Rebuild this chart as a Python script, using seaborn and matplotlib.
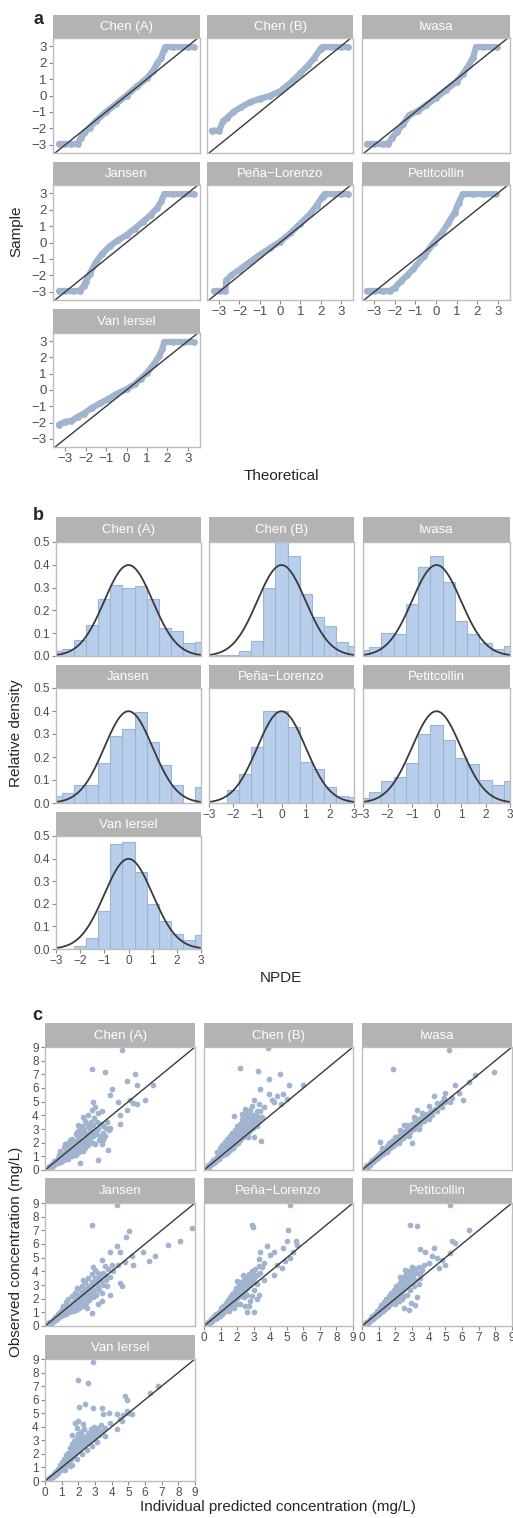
import numpy as np
import seaborn as sns
import matplotlib.pyplot as plt

sns.set_style('white')
plt.rcParams['font.family'] = ['Liberation Sans', 'DejaVu Sans']

studies = ['Chen (A)', 'Chen (B)', 'Iwasa', 'Jansen', 'Peña\u2212Lorenzo', 'Petitcollin', 'Van Iersel']

# ---- a: QQ plot of NPDE (theoretical, sample) ----
qq_chen_a = [(-3.3, -2.95), (-3.0, -2.95), (-2.7, -2.95), (-2.4, -2.95), (-2.25, -2.6), (-2.1, -2.3),
             (-1.8, -1.95), (-1.5, -1.55), (-1.0, -1.0), (-0.5, -0.5), (0, 0), (0.5, 0.55), (1.0, 1.05),
             (1.3, 1.5), (1.5, 1.95), (1.7, 2.3), (1.85, 2.8), (1.9, 2.95), (2.3, 2.95), (2.7, 2.95),
             (3.0, 2.95), (3.3, 2.95)]
qq_chen_b = [(-3.35, -2.14), (-3.0, -2.14), (-2.8, -1.55), (-2.6, -1.35), (-2.3, -1.0), (-1.9, -0.7),
             (-1.5, -0.42), (-1.0, -0.2), (-0.5, -0.02), (0, 0.25), (0.5, 0.75), (1.0, 1.35), (1.4, 1.85),
             (1.7, 2.3), (2.0, 2.85), (2.1, 2.95), (2.5, 2.95), (3.0, 2.95), (3.35, 2.95)]
qq_iwasa = [(-3.35, -2.95), (-3.0, -2.95), (-2.6, -2.95), (-2.35, -2.95), (-2.15, -2.6), (-1.9, -2.2),
            (-1.6, -1.75), (-1.3, -1.2), (-0.9, -0.95), (-0.5, -0.6), (0, -0.15), (0.5, 0.35), (1.0, 0.85),
            (1.3, 1.3), (1.6, 1.85), (1.8, 2.3), (1.95, 2.95), (2.3, 2.95), (2.7, 2.95), (2.95, 2.95)]
qq_jansen = [(-3.3, -2.95), (-3.0, -2.95), (-2.6, -2.95), (-2.3, -2.95), (-2.1, -2.65), (-2.0, -2.4),
             (-1.8, -1.9), (-1.5, -1.2), (-1.2, -0.7), (-0.8, -0.2), (-0.4, 0.15), (0, 0.45), (0.4, 0.85),
             (0.8, 1.25), (1.2, 1.7), (1.5, 2.1), (1.7, 2.5), (1.85, 2.95), (2.3, 2.95), (2.8, 2.95),
             (3.3, 2.95)]
qq_pena = [(-3.25, -2.95), (-2.95, -2.95), (-2.7, -2.95), (-2.65, -2.3), (-2.4, -2.0), (-2.0, -1.65),
           (-1.5, -1.2), (-1.0, -0.75), (-0.5, -0.35), (0, 0.05), (0.5, 0.55), (1.0, 1.15), (1.5, 1.75),
           (1.8, 2.25), (2.1, 2.8), (2.2, 2.95), (2.6, 2.95), (3.0, 2.95), (3.35, 2.95)]
qq_petit = [(-3.35, -2.95), (-3.0, -2.95), (-2.6, -2.95), (-2.25, -2.95), (-2.0, -2.75), (-1.7, -2.35),
            (-1.4, -2.0), (-1.1, -1.6), (-0.6, -0.85), (-0.1, 0.0), (0.3, 0.6), (0.6, 1.2), (0.9, 1.8),
            (1.1, 2.4), (1.3, 2.95), (1.8, 2.95), (2.3, 2.95), (2.9, 2.95)]
qq_vani = [(-3.3, -2.12), (-3.0, -1.95), (-2.7, -1.9), (-2.4, -1.65), (-2.1, -1.45), (-1.7, -1.1),
           (-1.3, -0.82), (-0.9, -0.55), (-0.5, -0.25), (0, 0.05), (0.4, 0.35), (0.7, 0.7), (1.0, 1.05),
           (1.35, 1.6), (1.6, 2.1), (1.75, 2.5), (1.85, 2.95), (2.3, 2.95), (2.8, 2.95), (3.3, 2.95)]
qq_data = [qq_chen_a, qq_chen_b, qq_iwasa, qq_jansen, qq_pena, qq_petit, qq_vani]

# ---- b: NPDE histograms (relative density per 0.5-wide bin) ----
hist_centers = [-3, -2.5, -2, -1.5, -1, -0.5, 0, 0.5, 1, 1.5, 2, 2.5, 3]
hist_chen_a = [0.02, 0.03, 0.07, 0.135, 0.25, 0.31, 0.30, 0.305, 0.25, 0.125, 0.11, 0.055, 0.06]
hist_chen_b = [0.0, 0.003, 0.005, 0.02, 0.065, 0.30, 0.50, 0.44, 0.27, 0.17, 0.13, 0.06, 0.045]
hist_iwasa = [0.025, 0.04, 0.10, 0.095, 0.23, 0.39, 0.44, 0.325, 0.155, 0.095, 0.055, 0.03, 0.045]
hist_jansen = [0.03, 0.045, 0.08, 0.08, 0.175, 0.29, 0.32, 0.395, 0.265, 0.165, 0.08, 0.0, 0.07]
hist_pena = [0.0, 0.0, 0.055, 0.125, 0.245, 0.40, 0.40, 0.33, 0.18, 0.15, 0.07, 0.03, 0.025]
hist_petit = [0.02, 0.05, 0.095, 0.115, 0.175, 0.30, 0.34, 0.275, 0.195, 0.17, 0.10, 0.08, 0.095]
hist_vani = [0.0, 0.0, 0.015, 0.05, 0.17, 0.465, 0.475, 0.34, 0.20, 0.125, 0.065, 0.04, 0.06]
hist_data = [hist_chen_a, hist_chen_b, hist_iwasa, hist_jansen, hist_pena, hist_petit, hist_vani]

# ---- c: observed vs individual predicted (pred, obs) ----
obs_chen_a = [(0.15, 0.1), (0.25, 0.3), (0.35, 0.2), (0.4, 0.45), (0.5, 0.3), (0.55, 0.65), (0.6, 0.45),
              (0.75, 0.5), (0.8, 0.9), (0.7, 0.75), (0.85, 1.1), (0.95, 0.6), (1.05, 0.9), (1.0, 1.2),
              (0.9, 1.4), (1.15, 0.7), (1.2, 1.05), (1.25, 1.4), (1.15, 1.7), (1.35, 0.8), (1.45, 1.2),
              (1.4, 1.6), (1.35, 2.0), (1.6, 1.0), (1.55, 1.45), (1.65, 1.9), (1.6, 2.3), (1.85, 1.1),
              (1.8, 1.6), (1.75, 2.1), (1.85, 2.6), (2.05, 1.3), (1.95, 1.8), (2.0, 2.4), (2.05, 2.9),
              (2.25, 1.4), (2.2, 2.0), (2.15, 2.6), (2.2, 3.2), (2.4, 1.6), (2.45, 2.3), (2.35, 2.9),
              (2.4, 3.6), (2.6, 1.8), (2.65, 2.5), (2.55, 3.2), (2.6, 4.0), (2.85, 2.0), (2.8, 2.8),
              (2.75, 3.5), (2.8, 4.4), (3.0, 1.9), (3.05, 2.6), (2.95, 3.8), (3.0, 4.6), (3.25, 2.2),
              (3.2, 3.0), (3.15, 4.2), (3.4, 1.9), (3.45, 2.7), (3.35, 3.4), (3.6, 2.5), (3.65, 3.1),
              (3.8, 1.5), (3.85, 2.9),
              (0.3, 0.25), (0.45, 0.35), (0.6, 0.6), (0.7, 0.55), (0.85, 0.75), (0.9, 0.95), (1.0, 1.0),
              (1.1, 1.2), (1.1, 0.95), (1.3, 1.15), (1.3, 1.55), (1.45, 1.4), (1.5, 1.75), (1.7, 1.3),
              (1.7, 1.55), (1.75, 1.85), (1.9, 1.45), (1.95, 2.15), (2.1, 1.7), (2.1, 2.3), (2.3, 1.8),
              (2.3, 2.15), (2.3, 2.65), (2.5, 2.05), (2.5, 2.6), (2.5, 3.4), (2.7, 2.2), (2.7, 3.0),
              (2.9, 2.5), (2.9, 3.3), (3.1, 2.9), (3.1, 3.5), (3.3, 2.5), (3.5, 3.2), (2.0, 3.3),
              (2.3, 3.9), (1.9, 2.8), (3.7, 3.5), (3.5, 2.2), (1.2, 1.9), (1.5, 2.2),
              (4.6, 8.8), (2.8, 7.4), (3.6, 7.2), (5.4, 7.0), (4.9, 6.5), (5.5, 6.2), (6.5, 6.2),
              (4.0, 5.9), (3.9, 5.5), (4.4, 5.0), (5.1, 5.1), (5.5, 4.8), (6.0, 5.1), (5.3, 4.9),
              (4.9, 4.4), (4.5, 4.0), (3.9, 3.1), (4.5, 3.4), (3.2, 0.7), (2.1, 0.5), (3.4, 4.3),
              (2.9, 5.0)]
obs_chen_b = [(0.15, 0.15), (0.25, 0.35), (0.3, 0.2), (0.4, 0.5), (0.45, 0.35), (0.55, 0.7), (0.6, 0.5),
              (0.7, 0.9), (0.75, 0.65), (0.85, 1.1), (0.9, 0.8), (0.8, 1.3), (1.0, 1.0), (1.05, 1.35),
              (0.95, 1.6), (1.15, 1.1), (1.2, 1.5), (1.1, 1.85), (1.3, 1.2), (1.35, 1.65), (1.25, 2.05),
              (1.45, 1.35), (1.5, 1.8), (1.4, 2.25), (1.6, 1.5), (1.65, 2.0), (1.55, 2.5), (1.75, 1.6),
              (1.8, 2.2), (1.7, 2.7), (1.9, 1.8), (1.95, 2.4), (1.85, 2.9), (2.05, 2.0), (2.1, 2.6),
              (2.0, 3.2), (2.2, 2.2), (2.25, 2.8), (2.15, 3.4), (2.35, 2.4), (2.4, 3.0), (2.3, 3.7),
              (2.5, 2.5), (2.55, 3.2), (2.45, 3.9), (2.65, 2.7), (2.7, 3.4), (2.6, 4.2), (2.8, 2.9),
              (2.85, 3.6), (2.75, 4.4), (2.95, 3.1), (3.0, 3.9), (2.9, 4.7), (3.1, 3.3), (3.15, 4.1),
              (3.3, 3.6), (3.4, 4.3), (3.5, 3.9),
              (0.35, 0.45), (0.5, 0.55), (0.65, 0.8), (0.7, 0.65), (0.9, 1.1), (0.95, 1.3), (1.1, 1.3),
              (1.15, 1.55), (1.25, 1.45), (1.3, 1.8), (1.45, 1.65), (1.5, 2.1), (1.6, 1.8), (1.7, 2.3),
              (1.75, 1.95), (1.85, 2.55), (1.95, 2.15), (2.0, 2.7), (2.1, 2.3), (2.15, 2.95), (2.25, 2.5),
              (2.3, 3.2), (2.4, 2.7), (2.5, 3.5), (2.55, 2.85), (2.65, 3.2), (2.7, 3.8), (2.8, 3.3),
              (2.9, 4.0), (3.0, 3.5), (3.1, 3.7), (3.2, 4.3), (3.25, 3.9), (2.5, 4.5), (2.3, 4.1),
              (3.3, 4.8), (1.4, 1.9), (2.0, 2.25), (2.65, 2.4), (3.6, 4.6),
              (3.85, 8.9), (2.15, 7.45), (3.25, 7.25), (4.6, 7.0), (3.9, 6.65), (5.15, 6.2), (5.95, 6.2),
              (3.4, 5.9), (3.9, 5.55), (4.4, 5.4), (4.8, 5.55), (4.1, 5.15), (4.65, 4.8), (3.0, 5.15),
              (2.4, 3.95), (1.8, 3.95), (3.45, 2.1), (3.0, 2.45), (3.2, 3.2), (4.2, 5.0), (5.0, 5.2)]
obs_iwasa = [(0.15, 0.15), (0.25, 0.3), (0.35, 0.25), (0.45, 0.5), (0.5, 0.4), (0.6, 0.7), (0.65, 0.55),
             (0.75, 0.85), (0.8, 0.7), (0.9, 1.05), (0.95, 0.85), (1.05, 1.25), (1.1, 1.0), (1.2, 1.4),
             (1.25, 1.15), (1.35, 1.55), (1.4, 1.3), (1.5, 1.75), (1.55, 1.45), (1.65, 1.9), (1.7, 1.6),
             (1.8, 2.1), (1.85, 1.75), (1.95, 2.25), (2.0, 1.9), (2.1, 2.4), (2.15, 2.05), (2.25, 2.55),
             (2.3, 2.2), (2.4, 2.7), (2.45, 2.35), (2.55, 2.85), (2.6, 2.5), (2.7, 3.0), (2.75, 2.65),
             (2.85, 3.2), (2.9, 2.8), (3.0, 3.35), (3.1, 3.0), (3.2, 3.55), (3.3, 3.2), (3.4, 3.75),
             (3.5, 3.4), (3.6, 3.9), (3.7, 3.55), (3.8, 4.1), (3.9, 3.8), (4.05, 4.25), (4.2, 4.0),
             (4.35, 4.5), (4.5, 4.3), (4.65, 4.7),
             (0.3, 0.35), (0.55, 0.55), (0.7, 0.7), (0.85, 0.9), (1.0, 1.1), (1.15, 1.2), (1.3, 1.4),
             (1.45, 1.5), (1.6, 1.7), (1.75, 1.85), (1.9, 2.0), (2.05, 2.15), (2.2, 2.3), (2.35, 2.5),
             (2.5, 2.6), (2.65, 2.75), (2.8, 2.95), (2.95, 3.05), (3.15, 3.3), (3.35, 3.45), (3.55, 3.65),
             (3.75, 3.8), (3.95, 4.05), (4.15, 4.3), (4.4, 4.4), (1.2, 1.6), (1.6, 2.0), (2.0, 2.45),
             (2.3, 2.9), (2.7, 3.3), (3.2, 3.8), (3.6, 4.2), (1.5, 1.3), (2.2, 1.95), (2.8, 2.5),
             (3.4, 3.0), (4.0, 3.7), (4.8, 4.6), (5.0, 5.0), (4.9, 5.3),
             (5.2, 8.8), (1.85, 7.4), (7.9, 7.2), (6.8, 6.95), (6.4, 6.45), (5.6, 6.2), (6.05, 5.1),
             (5.4, 5.25), (5.0, 5.6), (4.3, 5.4), (4.5, 4.9), (4.0, 4.65), (3.1, 3.9), (3.0, 1.95),
             (1.1, 2.05), (3.3, 4.4), (5.3, 5.0), (5.8, 5.6), (4.8, 5.0), (2.5, 3.3)]
obs_jansen = [(0.15, 0.1), (0.25, 0.3), (0.35, 0.2), (0.45, 0.45), (0.5, 0.3), (0.6, 0.65), (0.65, 0.45),
              (0.75, 0.85), (0.8, 0.55), (0.9, 1.0), (0.95, 0.7), (1.0, 1.25), (1.1, 0.8), (1.15, 1.1),
              (1.1, 1.5), (1.25, 0.9), (1.3, 1.3), (1.25, 1.75), (1.45, 1.0), (1.5, 1.5), (1.4, 1.95),
              (1.65, 1.1), (1.7, 1.7), (1.6, 2.2), (1.85, 1.2), (1.9, 1.9), (1.8, 2.45), (2.05, 1.35),
              (2.1, 2.1), (2.0, 2.7), (2.25, 1.5), (2.3, 2.3), (2.2, 2.95), (2.45, 1.7), (2.5, 2.5),
              (2.4, 3.2), (2.65, 1.9), (2.7, 2.75), (2.6, 3.5), (2.85, 2.1), (2.9, 3.0), (2.8, 3.8),
              (3.05, 2.3), (3.1, 3.3), (3.0, 4.1), (3.25, 2.6), (3.3, 3.6), (3.45, 3.0), (3.5, 3.9),
              (3.65, 3.4), (3.8, 4.2),
              (0.3, 0.25), (0.55, 0.5), (0.7, 0.6), (0.85, 0.8), (1.0, 0.95), (1.05, 1.05), (1.2, 1.2),
              (1.35, 1.1), (1.35, 1.5), (1.55, 1.25), (1.6, 1.7), (1.75, 1.4), (1.8, 1.95), (1.95, 1.6),
              (2.0, 2.25), (2.15, 1.8), (2.2, 2.5), (2.35, 2.0), (2.4, 2.7), (2.55, 2.2), (2.6, 2.95),
              (2.75, 2.4), (2.8, 3.2), (2.95, 2.6), (3.0, 3.5), (3.15, 2.9), (3.2, 3.9), (3.35, 3.3),
              (3.4, 2.4), (3.6, 3.7), (3.7, 2.9), (3.9, 3.6), (4.0, 4.5), (3.6, 4.4), (3.2, 1.6),
              (2.5, 1.3), (1.9, 2.8), (2.3, 3.4), (2.9, 4.3),
              (4.35, 8.85), (2.8, 7.4), (5.05, 6.95), (4.85, 6.5), (8.8, 7.2), (8.1, 6.2), (7.4, 5.95),
              (6.6, 5.1), (6.25, 4.75), (5.9, 5.45), (5.2, 5.1), (4.5, 5.45), (4.3, 5.85), (3.9, 5.45),
              (3.4, 4.85), (4.4, 4.5), (5.3, 4.5), (4.5, 3.15), (3.4, 1.8), (2.8, 0.95), (3.9, 2.3),
              (4.6, 2.9), (4.1, 4.0), (4.8, 4.7)]
obs_pena = [(0.15, 0.15), (0.25, 0.3), (0.35, 0.2), (0.45, 0.5), (0.5, 0.35), (0.6, 0.7), (0.65, 0.5),
            (0.75, 0.9), (0.8, 0.6), (0.9, 1.05), (0.95, 0.75), (1.05, 1.3), (1.1, 0.9), (1.15, 1.5),
            (1.2, 1.05), (1.3, 1.7), (1.35, 1.2), (1.45, 1.9), (1.5, 1.35), (1.55, 2.15), (1.6, 1.5),
            (1.7, 2.35), (1.75, 1.65), (1.85, 2.55), (1.9, 1.8), (1.95, 2.8), (2.0, 2.05), (2.1, 3.0),
            (2.15, 2.2), (2.25, 3.2), (2.3, 2.4), (2.4, 3.4), (2.45, 2.6), (2.55, 3.6), (2.6, 2.8),
            (2.7, 3.8), (2.75, 3.0), (2.85, 3.3), (2.9, 4.0), (3.0, 3.5), (3.1, 4.2), (3.2, 3.7),
            (3.3, 4.4), (3.0, 2.6), (2.2, 1.6), (1.8, 1.3),
            (0.3, 0.3), (0.55, 0.5), (0.7, 0.75), (0.85, 0.8), (1.0, 1.05), (1.1, 1.2), (1.25, 1.35),
            (1.4, 1.5), (1.5, 1.7), (1.6, 1.85), (1.7, 2.0), (1.8, 2.2), (1.95, 2.35), (2.05, 2.55),
            (2.2, 2.7), (2.3, 2.9), (2.45, 3.05), (2.55, 3.2), (2.7, 3.35), (2.8, 3.6), (2.95, 3.8),
            (3.05, 3.2), (3.2, 3.1), (3.4, 3.9), (3.5, 4.3), (2.0, 1.6), (2.4, 2.1), (2.6, 2.3),
            (2.9, 2.2), (3.2, 2.0), (2.7, 1.5), (1.5, 1.1), (3.6, 3.4), (2.35, 3.7), (2.0, 3.3),
            (5.2, 8.85), (2.9, 7.4), (2.95, 7.25), (5.1, 7.0), (5.0, 6.2), (5.55, 6.25), (5.6, 5.95),
            (5.4, 5.45), (5.2, 5.0), (4.9, 4.75), (4.4, 4.5), (4.2, 5.45), (4.0, 5.2), (4.8, 5.7),
            (4.7, 4.25), (4.2, 3.75), (3.4, 5.45), (3.8, 5.85), (3.3, 4.9), (3.6, 4.6), (2.6, 1.05),
            (3.0, 1.0), (2.5, 1.5), (3.3, 2.3), (2.8, 1.8)]
obs_petit = [(0.15, 0.15), (0.25, 0.3), (0.35, 0.2), (0.45, 0.5), (0.5, 0.35), (0.6, 0.7), (0.65, 0.5),
             (0.75, 0.9), (0.8, 0.65), (0.9, 1.1), (0.95, 0.8), (1.05, 1.3), (1.1, 0.95), (1.15, 1.55),
             (1.25, 1.1), (1.3, 1.75), (1.4, 1.25), (1.45, 1.95), (1.55, 1.4), (1.6, 2.2), (1.7, 1.6),
             (1.75, 2.45), (1.85, 1.8), (1.9, 2.65), (2.0, 2.0), (2.05, 2.9), (2.15, 2.2), (2.2, 3.1),
             (2.3, 2.4), (2.35, 3.35), (2.45, 2.6), (2.5, 3.6), (2.6, 2.8), (2.65, 3.8), (2.75, 3.0),
             (2.8, 4.0), (2.9, 3.2), (3.0, 3.6), (3.0, 4.3), (3.15, 3.4), (3.3, 3.9), (3.45, 3.5),
             (3.6, 4.1), (2.5, 2.2), (2.2, 1.8),
             (0.3, 0.3), (0.55, 0.5), (0.7, 0.75), (0.85, 0.85), (1.0, 1.05), (1.15, 1.2), (1.25, 1.4),
             (1.35, 1.5), (1.5, 1.65), (1.6, 1.85), (1.7, 2.0), (1.8, 2.2), (1.95, 2.35), (2.05, 2.5),
             (2.15, 2.7), (2.25, 2.85), (2.4, 3.0), (2.5, 3.15), (2.6, 3.35), (2.7, 3.5), (2.85, 3.6),
             (2.95, 3.9), (3.1, 3.8), (3.2, 4.2), (3.4, 4.3), (3.5, 3.9), (2.0, 1.6), (2.4, 2.0),
             (2.7, 2.3), (2.9, 2.6), (3.1, 2.9), (3.4, 3.1), (2.3, 3.6), (2.6, 4.1), (3.7, 4.5),
             (2.95, 1.7),
             (5.3, 8.85), (2.9, 7.4), (3.3, 7.35), (6.4, 7.0), (5.4, 6.25), (5.55, 6.1), (3.45, 5.6),
             (3.8, 5.45), (4.3, 5.7), (4.2, 5.15), (4.8, 4.8), (5.3, 5.35), (4.6, 4.25), (5.0, 4.5),
             (3.1, 4.1), (3.2, 1.55), (2.8, 1.2), (2.5, 1.3), (3.3, 2.15), (4.0, 4.6), (4.5, 5.0)]
obs_vani = [(0.15, 0.1), (0.25, 0.25), (0.35, 0.2), (0.45, 0.45), (0.5, 0.3), (0.6, 0.65), (0.65, 0.45),
            (0.75, 0.9), (0.8, 0.6), (0.9, 1.15), (0.95, 0.8), (1.0, 1.4), (1.05, 1.0), (1.15, 1.65),
            (1.2, 1.15), (1.25, 1.9), (1.3, 1.3), (1.4, 2.1), (1.45, 1.45), (1.5, 2.4), (1.55, 1.6),
            (1.6, 2.7), (1.7, 1.75), (1.75, 2.95), (1.8, 2.0), (1.9, 3.2), (1.95, 2.2), (2.0, 3.45),
            (2.1, 2.4), (2.15, 3.6), (2.2, 2.6), (2.3, 3.0), (2.35, 3.8), (2.45, 2.7), (2.5, 3.3),
            (2.6, 2.9), (2.7, 3.5), (2.8, 3.1), (2.9, 3.7), (3.0, 3.2), (3.1, 3.9), (3.25, 3.4),
            (3.4, 3.7), (1.8, 4.3), (2.0, 4.45), (1.2, 0.8), (1.6, 1.2),
            (0.3, 0.3), (0.55, 0.5), (0.7, 0.75), (0.85, 0.85), (1.0, 1.15), (1.1, 1.3), (1.2, 1.5),
            (1.3, 1.7), (1.35, 1.5), (1.45, 1.85), (1.55, 2.0), (1.65, 2.2), (1.7, 2.45), (1.8, 2.6),
            (1.85, 2.3), (1.95, 2.75), (2.05, 2.95), (2.1, 3.2), (2.2, 3.35), (2.25, 2.85), (2.4, 3.1),
            (2.55, 3.55), (2.65, 3.2), (2.75, 3.8), (2.85, 3.4), (2.95, 4.0), (3.05, 3.5), (3.2, 3.75),
            (3.35, 4.1), (3.6, 3.9), (1.5, 1.1), (1.9, 1.6), (2.2, 2.0), (2.5, 2.3), (2.8, 2.6),
            (3.1, 2.9), (1.6, 3.4), (2.3, 4.2), (1.9, 3.9), (3.6, 3.3),
            (2.9, 8.8), (1.95, 7.45), (2.6, 7.25), (6.8, 7.0), (6.3, 6.5), (4.8, 6.25), (4.9, 6.0),
            (2.05, 5.45), (2.4, 5.65), (2.9, 5.35), (3.4, 5.4), (3.5, 4.95), (3.85, 5.05), (4.3, 4.95),
            (4.7, 4.85), (4.95, 5.15), (5.2, 4.95), (4.5, 4.6), (4.3, 3.85), (3.9, 4.3), (4.6, 4.4),
            (5.0, 5.0)]
obs_data = [obs_chen_a, obs_chen_b, obs_iwasa, obs_jansen, obs_pena, obs_petit, obs_vani]

# ---- styling ----
PT = '#a0b4d0'
BAR = '#b8cfec'
BAR_EDGE = '#9db4d6'
STRIP = '#b3b3b3'
FRAME = '#bdbdbd'
TXT = '#4d4d4d'
LINE = '#3a3a3a'

W, H = 513, 1518
fig = plt.figure(figsize=(W / 100, H / 100), dpi=100)


def box(x0, x1, y0, y1):
    return [x0 / W, 1 - y1 / H, (x1 - x0) / W, (y1 - y0) / H]


def facet(cols, strips, plots, i):
    r, c = divmod(i, 3)
    x0, x1 = cols[c]
    sax = fig.add_axes(box(x0, x1, *strips[r]))
    sax.set_facecolor(STRIP)
    sax.set_xticks([])
    sax.set_yticks([])
    for s in sax.spines.values():
        s.set_visible(False)
    sax.text(0.5, 0.47, studies[i], transform=sax.transAxes, ha='center', va='center',
             color='white', fontsize=9.5)
    ax = fig.add_axes(box(x0, x1, *plots[r]))
    return ax, c == 0, i in (4, 5, 6)


def style(ax, show_y, show_x, fs):
    for s in ax.spines.values():
        s.set_color(FRAME)
        s.set_linewidth(1.0)
    ax.tick_params(colors='#8a8a8a', labelcolor=TXT, labelsize=fs, length=3, width=0.8, pad=1.5,
                   left=show_y, labelleft=show_y, bottom=show_x, labelbottom=show_x)
    ax.set_xlabel('')
    ax.set_ylabel('')


# panel a
a_cols = [(53, 200), (207, 353), (362, 510)]
a_strips = [(15, 38), (162, 185), (309, 333)]
a_plots = [(38, 153), (185, 300), (333, 447)]
for i, pts in enumerate(qq_data):
    ax, sy, sx = facet(a_cols, a_strips, a_plots, i)
    t = [p[0] for p in pts]
    s = [p[1] for p in pts]
    sns.lineplot(x=t, y=s, ax=ax, color=PT, linewidth=4.5, sort=False, estimator=None,
                 solid_capstyle='round', legend=False)
    sns.scatterplot(x=t, y=s, ax=ax, color=PT, s=24, linewidth=0, legend=False)
    ax.plot([-4, 4], [-4, 4], color=LINE, lw=1)
    ax.set_xlim(-3.6, 3.6)
    ax.set_ylim(-3.5, 3.5)
    ax.set_xticks(range(-3, 4))
    ax.set_yticks(range(-3, 4))
    style(ax, sy, sx, 9.5)

fig.text(38 / W, 1 - 20 / H, 'a', fontsize=13, fontweight='bold', ha='center', va='center')
fig.text(281 / W, 1 - 476 / H, 'Theoretical', fontsize=11, ha='center', va='center')
fig.text(16 / W, 1 - 231 / H, 'Sample', fontsize=11, ha='center', va='center', rotation=90)

# panel b
b_cols = [(56, 201), (209, 354), (363, 510)]
b_strips = [(517, 542), (665, 688), (812, 836)]
b_plots = [(542, 656), (688, 803), (836, 949)]
edges = [-3.25 + 0.5 * k for k in range(14)]
xs = np.linspace(-3, 3, 241)
pdf = np.exp(-xs ** 2 / 2) / np.sqrt(2 * np.pi)
for i, dens in enumerate(hist_data):
    ax, sy, sx = facet(b_cols, b_strips, b_plots, i)
    sns.histplot(x=hist_centers, weights=dens, bins=edges, ax=ax, color=BAR, edgecolor=BAR_EDGE,
                 linewidth=0.8, alpha=1.0)
    ax.plot(xs, pdf, color=LINE, lw=1.3)
    ax.set_xlim(-3, 3)
    ax.set_ylim(0, 0.5)
    ax.set_xticks(range(-3, 4))
    ax.set_yticks([0, 0.1, 0.2, 0.3, 0.4, 0.5])
    ax.set_yticklabels(['0.0', '0.1', '0.2', '0.3', '0.4', '0.5'])
    style(ax, sy, sx, 8.5)

fig.text(38 / W, 1 - 515 / H, 'b', fontsize=13, fontweight='bold', ha='center', va='center')
fig.text(281 / W, 1 - 978 / H, 'NPDE', fontsize=11, ha='center', va='center')
fig.text(16 / W, 1 - 733 / H, 'Relative density', fontsize=11, ha='center', va='center', rotation=90)

# panel c
c_cols = [(45, 195), (204, 353), (362, 512)]
c_strips = [(1023, 1047), (1178, 1203), (1335, 1359)]
c_plots = [(1047, 1170), (1203, 1326), (1359, 1481)]
for i, pts in enumerate(obs_data):
    ax, sy, sx = facet(c_cols, c_strips, c_plots, i)
    px = [p[0] for p in pts]
    py = [p[1] for p in pts]
    sns.scatterplot(x=px, y=py, ax=ax, color=PT, s=17, linewidth=0, legend=False)
    ax.plot([0, 9], [0, 9], color=LINE, lw=1)
    ax.set_xlim(0, 9)
    ax.set_ylim(0, 9)
    ax.set_xticks(range(10))
    ax.set_yticks(range(10))
    style(ax, sy, sx, 8.5)

fig.text(37 / W, 1 - 1015 / H, 'c', fontsize=13, fontweight='bold', ha='center', va='center')
fig.text(278 / W, 1 - 1507 / H, 'Individual predicted concentration (mg/L)', fontsize=11,
         ha='center', va='center')
fig.text(16 / W, 1 - 1252 / H, 'Observed concentration (mg/L)', fontsize=11, ha='center',
         va='center', rotation=90)

fig.savefig('out.png', dpi=100)
